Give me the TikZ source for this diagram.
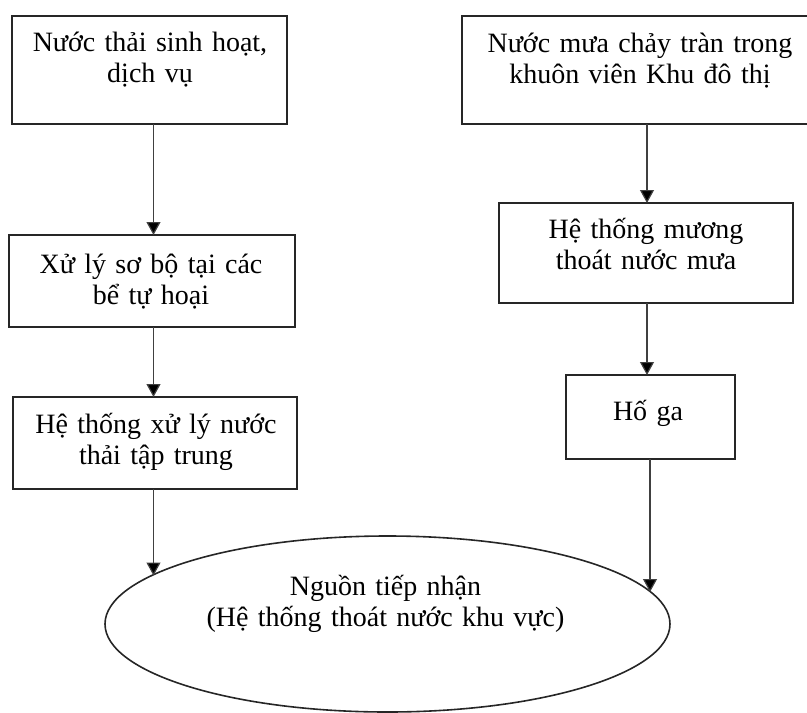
\documentclass[tikz,border=0pt]{standalone}
\usepackage{fontspec}
\setmainfont{Liberation Serif}
\usetikzlibrary{arrows.meta,shapes.geometric,calc}
\begin{document}
\begin{tikzpicture}[x=1pt,y=-1pt,
  boxnode/.style={draw=black!85, line width=1.6pt, rectangle, inner sep=0pt, outer sep=0pt, anchor=north west},
  txt/.style={font=\fontsize{28}{31}\selectfont, text width=360pt, align=center, inner sep=0pt, anchor=base},
  arr/.style={draw=black!75, line width=1.2pt, -{Triangle[width=14pt,length=13pt,fill=black]}},
  ell/.style={draw=black!85, line width=1.6pt, ellipse, inner sep=0pt, outer sep=0pt, minimum width=565pt, minimum height=176pt}
]
\useasboundingbox (0,0) rectangle (807,713);
\clip (0,0) rectangle (807,713);
% boxes
\node[boxnode, minimum width=275pt, minimum height=108pt] (b1) at (12,16) {};
\node[boxnode, minimum width=358pt, minimum height=108pt] (b2) at (462,16) {};
\node[boxnode, minimum width=286pt, minimum height=92pt] (b3) at (9,235) {};
\node[boxnode, minimum width=294pt, minimum height=100pt] (b4) at (499,203) {};
\node[boxnode, minimum width=284pt, minimum height=92pt] (b5) at (13,397) {};
\node[boxnode, minimum width=169pt, minimum height=84pt] (b6) at (566,375) {};
\node[ell] (e) at (387.5,624) {};
% texts
\node[txt] (t1) at (150,51) {Nước thải sinh hoạt,\\dịch vụ};
\node[txt] (t2) at (640,52) {Nước mưa chảy tràn trong\\khuôn viên Khu đô thị};
\node[txt] (t3) at (151,273) {Xử lý sơ bộ tại các\\bể tự hoại};
\node[txt] (t4) at (646,238) {Hệ thống mương\\thoát nước mưa};
\node[txt] (t5) at (156,433) {Hệ thống xử lý nước\\thải tập trung};
\node[txt] (t6) at (648,420) {Hố ga};
\node[txt] (t7) at (385.5,595) {Nguồn tiếp nhận\\(Hệ thống thoát nước khu vực)};
% connectors
\coordinate (colL) at (153.5,0);
\coordinate (colR) at (647,0);
\coordinate (eL) at ($(e.center)+(-234,-48.5)$);
\coordinate (eR) at ($(e.center)+(262.5,-32)$);
\draw[arr] (b1.south -| colL) -- (b3.north -| colL);
\draw[arr] (b3.south -| colL) -- (b5.north -| colL);
\draw[arr] (b5.south -| eL) -- (eL);
\draw[arr] (b2.south -| colR) -- (b4.north -| colR);
\draw[arr] (b4.south -| colR) -- (b6.north -| colR);
\draw[arr] (b6.south -| eR) -- (eR);
\end{tikzpicture}
\end{document}
